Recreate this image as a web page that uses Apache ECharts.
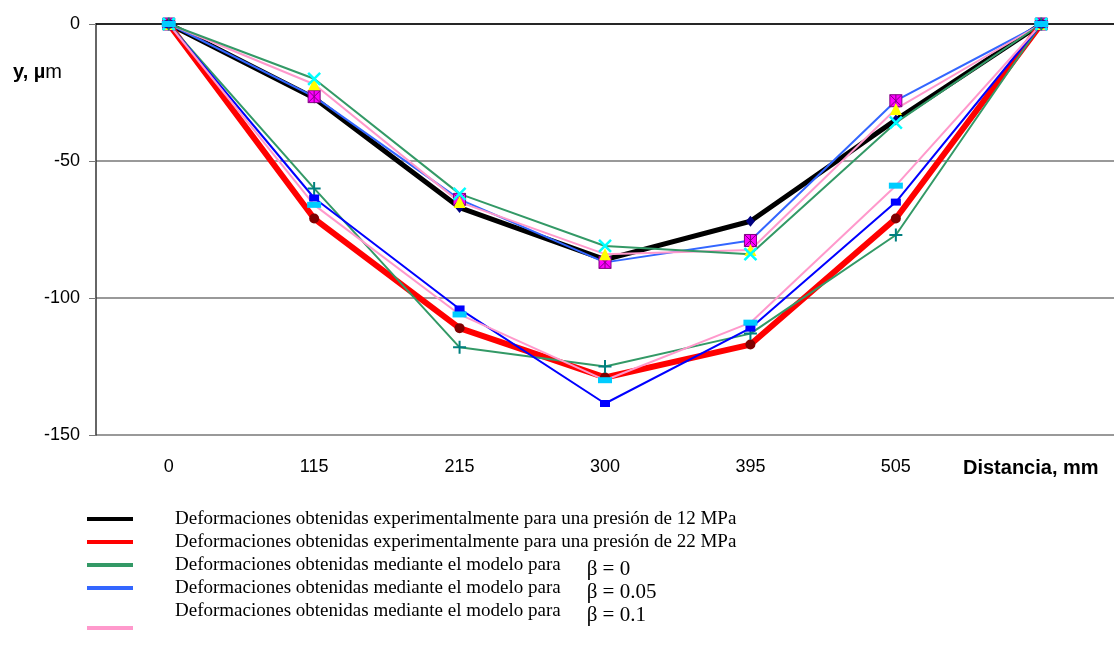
<!DOCTYPE html>
<html>
<head>
<meta charset="utf-8">
<script src="https://cdn.jsdelivr.net/npm/echarts@6/dist/echarts.min.js"></script>
<style>
  html, body { margin: 0; padding: 0; background: #fff; }
  #chart { width: 1114px; height: 655px; }
</style>
</head>
<body>
<div id="chart"></div>
<script>
// distancia (mm); la última categoría no lleva etiqueta
const distancias = ['0', '115', '215', '300', '395', '505', ''];
const yTicks = [-150, -100, -50, 0];

// datos experimentales
const exp12 = [0, -27, -67, -86, -72, -35, 0];
const exp22 = [0, -71, -111, -129, -117, -71, 0];
// modelo beta = 0
const b0_12 = [0, -20, -62, -81, -84, -36, 0];
const b0_22 = [0, -60, -118, -125, -113, -77, 0];
// modelo beta = 0.05
const b005_12 = [0, -26.5, -64, -87, -79, -28, 0];
const b005_22 = [0, -63.5, -104, -138.5, -111, -65, 0];
// modelo beta = 0.1
const b01_12 = [0, -22, -65, -84, -82.5, -31, 0];
const b01_22 = [0, -66, -106, -130, -109, -59, 0];

const legendTexts = [
    'Deformaciones obtenidas experimentalmente para una presión de 12 MPa',
    'Deformaciones obtenidas experimentalmente para una presión de 22 MPa',
    'Deformaciones obtenidas mediante el modelo para',
    'Deformaciones obtenidas mediante el modelo para',
    'Deformaciones obtenidas mediante el modelo para'
];
const betas = ['', '', 'β = 0', 'β = 0.05', 'β = 0.1'];

const chart = echarts.init(document.getElementById('chart'));

const mkSeries = (name, data, color, width, symbol, size, itemStyle) => ({
    name: name,
    type: 'line',
    data: data,
    symbol: symbol,
    symbolSize: size,
    showAllSymbol: true,
    lineStyle: { color: color, width: width },
    itemStyle: itemStyle,
    emphasis: { disabled: true },
});

const crossX = 'path://M0,0L10,10M10,0L0,10';
const plus = 'path://M5,0L5,10M0,5L10,5';
const starSq = 'path://M0,0L10,0L10,10L0,10ZM0,0L10,10M10,0L0,10M5,0L5,10';

// leyenda hecha a mano (como en la hoja original)
const legendColors = ['#000000', '#ff0000', '#339966', '#3366ff', null];
const legendY = [519, 542, 565, 588, 611];
const graphics = [];
legendY.forEach((y, i) => {
    if (legendColors[i]) {
        graphics.push({ type: 'rect', shape: { x: 87, y: y - 2, width: 46, height: 4 }, style: { fill: legendColors[i] } });
    }
    graphics.push({
        type: 'text', x: 175, y: y, style: {
            text: '{t|' + legendTexts[i] + '}' + (betas[i] ? '{b|' + betas[i] + '}' : ''),
            verticalAlign: 'middle',
            rich: {
                t: { fontFamily: 'Liberation Serif', fontSize: 19, fill: '#000' },
                b: { fontFamily: 'Liberation Serif', fontSize: 21, fill: '#000', padding: [9, 0, 0, 26] },
            },
        },
    });
});
graphics.push({ type: 'rect', shape: { x: 87, y: 626, width: 46, height: 4 }, style: { fill: '#ff99cc' } });
graphics.push({
    type: 'text', x: 13, y: 72, style: {
        text: '{b|y, µ}{n|m}', verticalAlign: 'middle',
        rich: {
            b: { fontFamily: 'Liberation Sans', fontSize: 20, fontWeight: 'bold', fill: '#000' },
            n: { fontFamily: 'Liberation Sans', fontSize: 20, fill: '#000' },
        },
    },
});
graphics.push({
    type: 'text', x: 963, y: 468, style: {
        text: 'Distancia, mm', verticalAlign: 'middle',
        fontFamily: 'Liberation Sans', fontSize: 20, fontWeight: 'bold', fill: '#000',
    },
});

const option = {
    animation: false,
    backgroundColor: '#fff',
    grid: { left: 96, top: 24, width: 1029, height: 411 },
    xAxis: {
        type: 'category',
        data: distancias,
        boundaryGap: true,
        axisLine: { lineStyle: { color: '#000', width: 1.5 } },
        axisTick: { length: 6, lineStyle: { color: '#000' } },
        axisLabel: { margin: 23, fontFamily: 'Liberation Sans', fontSize: 18, color: '#000' },
    },
    yAxis: {
        type: 'value',
        min: yTicks[0],
        max: yTicks[yTicks.length - 1],
        interval: 50,
        axisLine: { show: true, lineStyle: { color: '#333', width: 1.5 } },
        axisTick: { show: true, length: 7, lineStyle: { color: '#777' } },
        axisLabel: { margin: 16, fontFamily: 'Liberation Sans', fontSize: 18, color: '#000' },
        splitLine: { lineStyle: { color: '#777', width: 1.5 } },
    },
    graphic: graphics,
    series: [
        mkSeries('exp 12 MPa', exp12, '#000000', 5, 'diamond', [9, 11], { color: '#000080' }),
        mkSeries('beta 0.05 (12)', b005_12, '#3366ff', 2, starSq, 12, { color: '#ff00ff', borderColor: '#800080', borderWidth: 1 }),
        mkSeries('beta 0.1 (12)', b01_12, '#ff99cc', 2, 'triangle', 12, { color: '#ffff00' }),
        mkSeries('beta 0 (12)', b0_12, '#339966', 2, crossX, 12, { color: 'transparent', borderColor: '#00ffff', borderWidth: 2.5 }),
        mkSeries('exp 22 MPa', exp22, '#ff0000', 6, 'circle', 10, { color: '#800000' }),
        mkSeries('beta 0 (22)', b0_22, '#339966', 2, plus, 13, { color: 'transparent', borderColor: '#008080', borderWidth: 2 }),
        mkSeries('beta 0.05 (22)', b005_22, '#0000ff', 2, 'rect', [10, 7], { color: '#0000ff' }),
        mkSeries('beta 0.1 (22)', b01_22, '#ff99cc', 2, 'rect', [14, 6], { color: '#00ccff' }),
    ],
};

chart.setOption(option);
</script>
</body>
</html>
